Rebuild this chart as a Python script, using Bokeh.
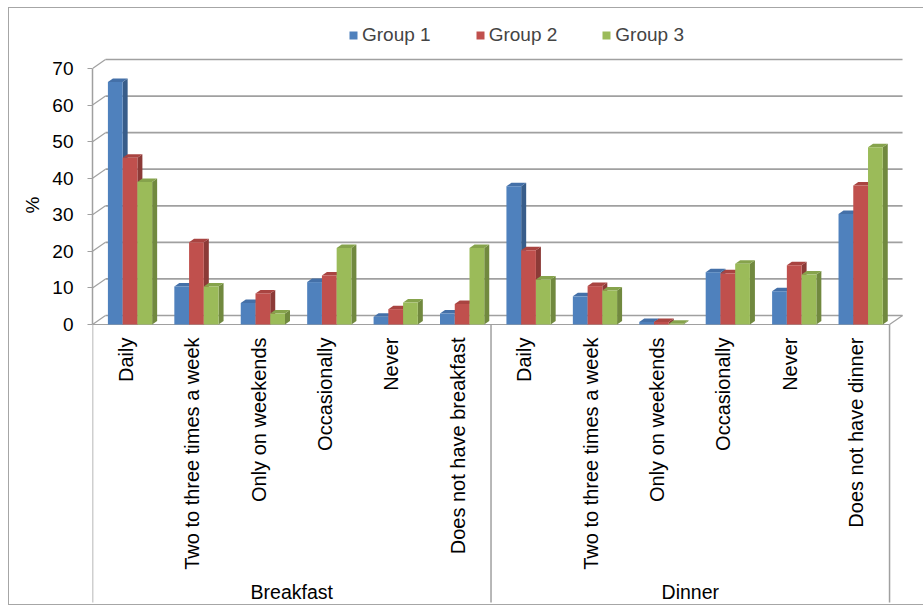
import numpy as np
from bokeh.plotting import figure
from bokeh.models import (Range1d, FixedTicker, Legend, LegendItem, Title,
                          InlineStyleSheet)
from bokeh.core.properties import value
from bokeh.embed import file_html
from bokeh.resources import INLINE

# ---------------- data ----------------
meals = ["Breakfast", "Dinner"]
categories = [
    "Daily", "Two to three times a week", "Only on weekends", "Occasionally",
    "Never", "Does not have breakfast",
    "Daily", "Two to three times a week", "Only on weekends", "Occasionally",
    "Never", "Does not have dinner",
]
groups = ["Group 1", "Group 2", "Group 3"]
group1 = [66.3, 10.4, 5.9, 11.6, 2.1, 3.0, 37.8, 7.7, 0.7, 14.3, 9.1, 30.2]
group2 = [45.6, 22.5, 8.5, 13.4, 4.2, 5.6, 20.3, 10.5, 0.7, 14.0, 16.2, 38.0]
group3 = [39.0, 10.4, 3.0, 20.9, 6.0, 20.9, 12.3, 9.3, 0.2, 16.6, 13.7, 48.5]
y_ticks = [0, 10, 20, 30, 40, 50, 60, 70]
y_label = "%"

# ---------------- style / geometry ----------------
FONT = "Liberation Sans"
W, H = 923, 607
LEFT, TOP, RIGHT_B, BOTTOM_B = 92, 8, 8, 3
PX_X = 66.42          # pixels per category
PX_Y = 3.657          # pixels per % unit
Y0_PX = 324           # pixel row of value 0
frame_w = W - LEFT - RIGHT_B
frame_h = H - TOP - BOTTOM_B
y_top = (Y0_PX - TOP) / PX_Y
y_bot = -(TOP + frame_h - Y0_PX) / PX_Y

front_cols = ["#4F81BD", "#C0504D", "#9BBB59"]
side_cols = ["#385D8A", "#8C3A37", "#71893F"]
top_cols = ["#4470A8", "#A94441", "#86A34C"]
grid_col = "#a0a0a0"

n = len(categories)
x_idx = np.arange(n) + 0.5
SHIFT = 0.065
BW = 0.222
BAR_DX = 5 / PX_X
BAR_DY = 3.5 / PX_Y
WALL_DX = 13 / PX_X
WALL_DY = 9 / PX_Y

border_css = InlineStyleSheet(css="""
:host::after {
  content: "";
  position: absolute;
  left: 8px; top: 7px; width: 916px; height: 598px;
  box-sizing: border-box;
  border: 1.5px solid #a6a6a6;
  pointer-events: none;
}
""")

p = figure(width=W, height=H, title=None, x_axis_type=None,
           x_range=Range1d(0, frame_w / PX_X), y_range=Range1d(y_bot, y_top),
           min_border_left=LEFT, min_border_top=TOP, min_border_right=RIGHT_B,
           min_border_bottom=BOTTOM_B, output_backend="svg", toolbar_location=None,
           stylesheets=[border_css])
p.outline_line_color = None
p.background_fill_color = "white"
p.border_fill_color = "white"
p.ygrid.visible = False

# back-wall gridlines and connectors
ticks = np.array(y_ticks, dtype=float)
p.segment(x0=np.full(len(ticks), WALL_DX), y0=ticks + WALL_DY,
          x1=np.full(len(ticks), n + WALL_DX), y1=ticks + WALL_DY,
          line_color=grid_col, line_width=1.7)
p.segment(x0=np.zeros(len(ticks)), y0=ticks, x1=np.full(len(ticks), WALL_DX),
          y1=ticks + WALL_DY, line_color=grid_col, line_width=1.2)
# floor front edge and right slant
p.segment(x0=[0, n], y0=[0, 0], x1=[n, n + WALL_DX], y1=[0, WALL_DY],
          line_color=grid_col, line_width=1.2)
# category separators
sep_x = [0, n / 2, n]
p.segment(x0=sep_x, y0=[y_bot + 2 / PX_Y] * 3, x1=sep_x, y1=[0] * 3,
          line_color=grid_col, line_width=1.5)

# bars with 3D faces
legend_items = []
for g, vals in enumerate([group1, group2, group3]):
    vals = np.array(vals)
    xc = x_idx + SHIFT + (g - 1) * BW
    xl = xc - BW / 2
    xr = xc + BW / 2
    side_xs = [[a, a + BAR_DX, a + BAR_DX, a] for a in xr]
    side_ys = [[0, BAR_DY, v + BAR_DY, v] for v in vals]
    p.patches(xs=side_xs, ys=side_ys, fill_color=side_cols[g], line_color=None)
    top_xs = [[a, b, b + BAR_DX, a + BAR_DX] for a, b in zip(xl, xr)]
    top_ys = [[v, v, v + BAR_DY, v + BAR_DY] for v in vals]
    p.patches(xs=top_xs, ys=top_ys, fill_color=top_cols[g], line_color=None)
    r = p.vbar(x=xc, top=vals, bottom=0, width=BW, fill_color=front_cols[g],
               line_color=None)
    legend_items.append(LegendItem(label=groups[g], renderers=[r]))

# category labels
p.text(x=x_idx, y=np.full(n, -13 / PX_Y), text=categories, angle=np.pi / 2,
       text_align="right", text_baseline="middle", text_font=value(FONT),
       text_font_size=value("20px"), text_color="black")
p.text(x=[n / 4, 3 * n / 4], y=[-(591.5 - Y0_PX) / PX_Y] * 2, text=meals,
       text_align="center", text_baseline="middle", text_font=value(FONT),
       text_font_size=value("19.5px"), text_color="black")

# y axis
ax = p.yaxis[0]
ax.ticker = FixedTicker(ticks=y_ticks)
ax.bounds = (0, 70)
ax.axis_line_color = grid_col
ax.axis_line_width = 1.5
ax.major_tick_line_color = grid_col
ax.major_tick_out = 5
ax.major_tick_in = 0
ax.minor_tick_line_color = None
ax.major_label_standoff = 14
ax.major_label_text_font = FONT
ax.major_label_text_font_size = "19px"
ax.major_label_text_color = "black"

# "%" label placed beside the middle of the value axis
ylab = Title(text=y_label, align="right", offset=188,
             text_font=FONT, text_font_size="19px", text_font_style="normal",
             text_color="black", standoff=14)
p.add_layout(ylab, "left")

legend = Legend(items=legend_items, orientation="horizontal",
                location=(256, 558), padding=0, margin=0, spacing=44,
                glyph_width=10, glyph_height=10, label_standoff=4,
                label_text_font=FONT, label_text_font_size="19px",
                background_fill_alpha=0, border_line_color=None)
p.add_layout(legend)

open("out.html", "w").write(file_html(p, INLINE))
